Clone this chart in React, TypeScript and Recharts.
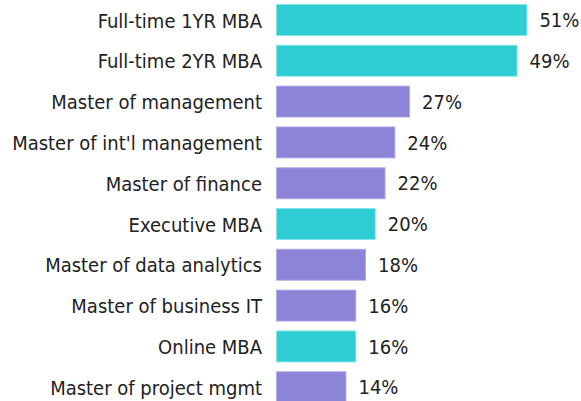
import React from 'react';
import { BarChart, Bar, XAxis, YAxis, Cell, LabelList } from 'recharts';

const programs = [
  'Full-time 1YR MBA',
  'Full-time 2YR MBA',
  'Master of management',
  "Master of int'l management",
  'Master of finance',
  'Executive MBA',
  'Master of data analytics',
  'Master of business IT',
  'Online MBA',
  'Master of project mgmt',
];
const shares = [51, 49, 27, 24, 22, 20, 18, 16, 16, 14];
const kinds = ['mba', 'mba', 'master', 'master', 'master', 'mba', 'master', 'master', 'mba', 'master'];

const FILL: Record<string, string> = { mba: '#2ECCD3', master: '#8B84D7' };
const EDGE: Record<string, string> = { mba: '#86E6EC', master: '#B3ADEC' };
const FONT = '"DejaVu Sans Condensed", "DejaVu Sans", sans-serif';

const data = programs.map((name, i) => ({ name, value: shares[i], kind: kinds[i] }));

// bar with a 1px lighter rim, like the original export
const RimBar = (props: any) => {
  const { x, y, width, height, payload } = props;
  const k = payload.kind;
  return (
    <g>
      <rect x={x - 1} y={y - 1} width={width + 2} height={height + 2} fill={EDGE[k]} />
      <rect x={x} y={y} width={width} height={height} fill={FILL[k]} />
    </g>
  );
};

export default function App() {
  return (
    <div style={{ position: 'absolute', left: 0, top: 0, background: '#fff' }}>
      <BarChart
        width={581}
        height={408}
        data={data}
        layout="vertical"
        margin={{ top: 0, right: 10.6, bottom: 0, left: 0 }}
      >
        <XAxis type="number" domain={[0, 60]} hide />
        <YAxis
          type="category"
          dataKey="name"
          width={277}
          axisLine={false}
          tickLine={false}
          tickSize={0}
          tickMargin={15}
          interval={0}
          tick={{ fill: '#222', fontSize: 20, fontFamily: FONT }}
        />
        <Bar dataKey="value" barSize={30} shape={<RimBar />} isAnimationActive={false}>
          {data.map((d, i) => (
            <Cell key={i} fill={FILL[d.kind]} />
          ))}
          <LabelList
            dataKey="value"
            position="right"
            offset={13}
            formatter={(v: any) => `${v}%`}
            style={{ fill: '#222', fontSize: 20, fontFamily: FONT }}
          />
        </Bar>
      </BarChart>
    </div>
  );
}
